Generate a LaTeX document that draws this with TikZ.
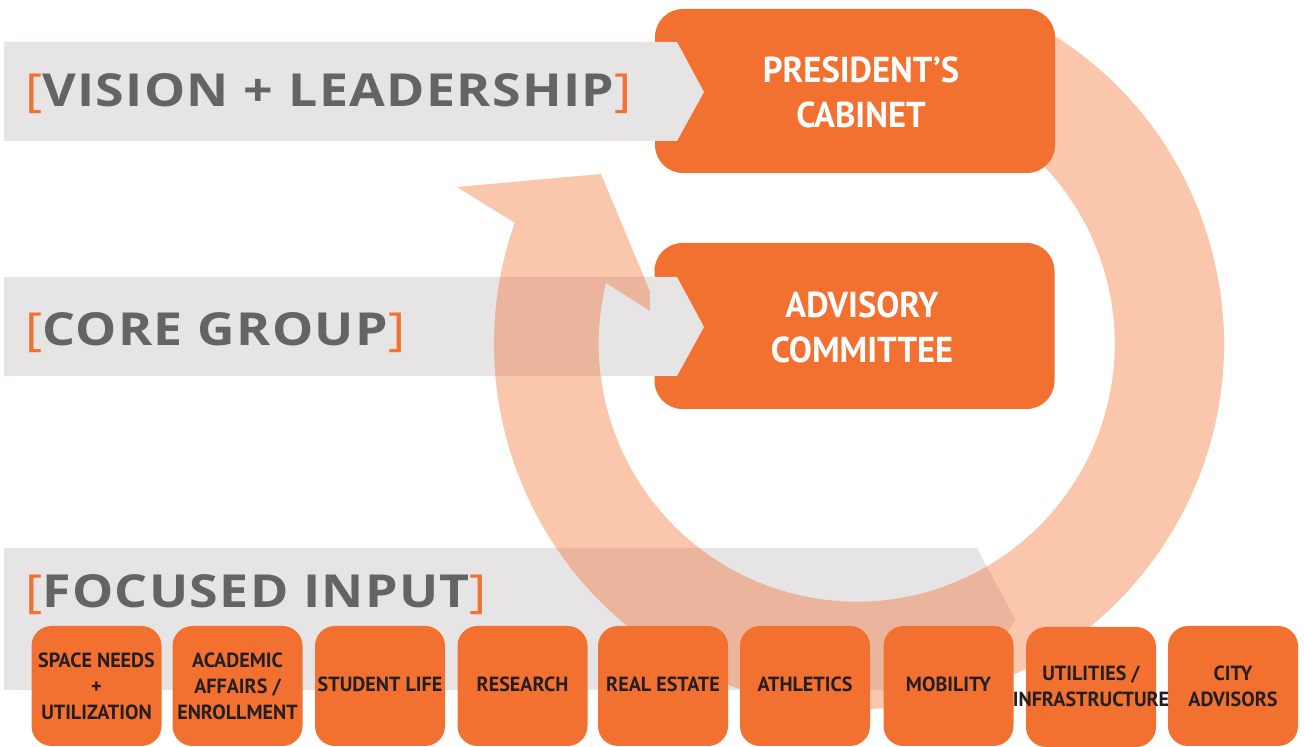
\documentclass[tikz,border=0pt]{standalone}
\usepackage{fontspec}
\newfontfamily\bigf[LetterSpace=3,FakeStretch=1.14]{Open Sans}
\newfontfamily\condf[FakeStretch=0.96]{PT Sans}
\newfontfamily\condb[FakeStretch=0.98]{PT Sans}
\definecolor{orng}{RGB}{242,112,48}
\definecolor{bandgrey}{RGB}{230,228,229}
\definecolor{labgrey}{RGB}{99,100,102}
\definecolor{darktxt}{RGB}{35,31,32}
\tikzset{
  band/.style={fill=bandgrey},
  ringst/.style={fill=orng, fill opacity=0.40},
  topbox/.style={fill=orng, rounded corners=28pt, minimum width=400pt, minimum height=164pt, inner sep=0pt},
  botbox/.style={fill=orng, rounded corners=20pt, minimum width=130pt, minimum height=120pt, inner sep=0pt},
  toplab/.style={text=white, font=\condf\bfseries\fontsize{36}{45}\selectfont, align=center, inner sep=0pt},
  botlab/.style={text=darktxt, font=\condb\bfseries\fontsize{20.5}{26}\selectfont, align=center, inner sep=0pt},
  biglab/.style={text=labgrey, font=\bigf\bfseries\fontsize{45.5}{54}\selectfont, anchor=base west, inner sep=0pt},
}
\newcommand{\obr}{{\color{orng}\mdseries[}}
\newcommand{\cbr}{{\color{orng}\mdseries]}}
\begin{document}
\begin{tikzpicture}[x=1pt,y=1pt]
\useasboundingbox (0,0) rectangle (1304,747);
% grey bands
\fill[band] (4,705) -- (677,705) -- (704,655) -- (677,606) -- (4,606) -- cycle;
\fill[band] (4,470) -- (677,470) -- (704,420) -- (677,371) -- (4,371) -- cycle;
\fill[band] (4,199) -- (977,199) -- (1015,128) -- (977,57) -- (4,57) -- cycle;
% circular arrow
\coordinate (rc) at (859,403);
\fill[ringst] (rc) ++(60:365) arc[start angle=60, end angle=-199.4, radius=365]
  -- (457,560) -- (601,573) -- (661,429) -- (606,464)
  arc[start angle=166.4, end angle=420, radius=258] -- cycle;
% top boxes
\node[topbox] (pres) at (855,656) {};
\node[topbox, minimum height=166pt] (adv) at (854.5,421) {};
% grey tips over boxes
\fill[band] (650,705) -- (677,705) -- (704,655) -- (677,606) -- (650,606) -- cycle;
\fill[band] (650,470) -- (677,470) -- (704,420) -- (677,371) -- (650,371) -- cycle;
\node[toplab] (presT) at (861,654.5) {PRESIDENT’S\\CABINET};
\node[toplab] (advT) at (862,419.5) {ADVISORY\\COMMITTEE};
% big labels
\node[biglab] (vis) at (25,640) {\obr VISION + LEADERSHIP\cbr};
\node[biglab] (core) at (25,401) {\obr CORE GROUP\cbr};
\node[biglab] (foc) at (25,139) {\obr FOCUSED INPUT\cbr};
% bottom boxes
\node[botbox] (b1) at (96.5,61) {};
\node[botbox] (b2) at (237.5,61) {};
\node[botbox] (b3) at (380,61) {};
\node[botbox] (b4) at (522.5,61) {};
\node[botbox] (b5) at (663,61) {};
\node[botbox] (b6) at (805,61) {};
\node[botbox] (b7) at (948.5,61) {};
\node[botbox] (b8) at (1091,60) {};
\node[botbox] (b9) at (1233,61) {};
\node[botlab] (t1) at (96.5,61) {SPACE NEEDS\\+\\UTILIZATION};
\node[botlab] (t2) at (237.5,61) {ACADEMIC\\AFFAIRS /\\ENROLLMENT};
\node[botlab] (t3) at (380,63) {STUDENT LIFE};
\node[botlab] (t4) at (522.5,63) {RESEARCH};
\node[botlab] (t5) at (663,63) {REAL ESTATE};
\node[botlab] (t6) at (805,63) {ATHLETICS};
\node[botlab] (t7) at (948.5,63) {MOBILITY};
\node[botlab] (t8) at (1091,61) {UTILITIES /\\INFRASTRUCTURE};
\node[botlab] (t9) at (1233,61) {CITY\\ADVISORS};
\end{tikzpicture}
\end{document}
